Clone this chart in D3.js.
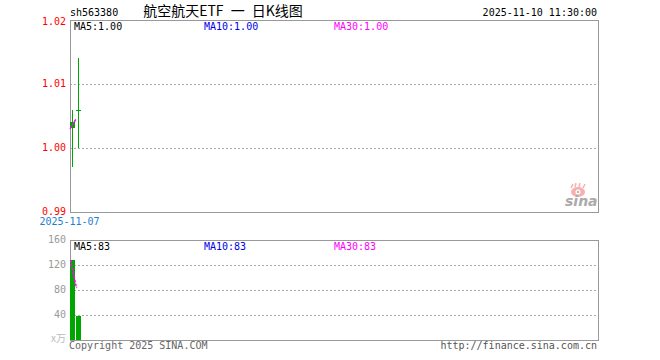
<!DOCTYPE html>
<html><head><meta charset="utf-8">
<script src="https://cdn.jsdelivr.net/npm/d3@7"></script>
<style>body{margin:0;background:#fff}svg{display:block}</style>
</head><body>
<svg id="c" width="660" height="360"></svg>
<script>
const code = "sh563380";
const title = "航空航天ETF 一 日K线图";
const stamp = "2025-11-10 11:30:00";
const dates = ["2025-11-07", "2025-11-10"];
const openV = [1.004, 1.006];
const closeV = [1.003, 1.006];
const highV = [1.006, 1.014];
const lowV = [0.997, 1.000];
const volV = [128, 38];
const priceTicks = [0.99, 1.00, 1.01, 1.02];
const volTicks = [40, 80, 120, 160];
const maLabels = ["MA5:1.00", "MA10:1.00", "MA30:1.00"];
const volMaLabels = ["MA5:83", "MA10:83", "MA30:83"];

const svg = d3.select("#c");
const mono = "'DejaVu Sans Mono', 'Liberation Mono', monospace";
const L = 70, R = 598, T = 20, B = 212, VT = 240, VB = 340;
const green = "#00a600", red = "#ff0000", blue = "#0000ee", mag = "#ff00ff";

const slots = 88;
const x = d3.scaleLinear().domain([0, slots]).range([L + 2.5, L + 2.5 + 6 * slots]);
const y = d3.scaleLinear().domain([0.99, 1.02]).range([B, T]);
const yv = d3.scaleLinear().domain([0, 160]).range([VB, VT]);

function ma(arr, n) { return arr.map((d, i) => d3.mean(arr.slice(Math.max(0, i - n + 1), i + 1))); }

// grid lines
svg.append("g").selectAll("line").data([1.00, 1.01]).join("line")
  .attr("x1", L).attr("x2", R).attr("y1", d => Math.round(y(d)) + 0.5).attr("y2", d => Math.round(y(d)) + 0.5)
  .attr("stroke", "#aaa").attr("stroke-dasharray", "2,2").attr("shape-rendering", "crispEdges");
svg.append("g").selectAll("line").data([40, 80, 120]).join("line")
  .attr("x1", L).attr("x2", R).attr("y1", d => Math.round(yv(d)) + 0.5).attr("y2", d => Math.round(yv(d)) + 0.5)
  .attr("stroke", "#aaa").attr("stroke-dasharray", "2,2").attr("shape-rendering", "crispEdges");

// frames
svg.append("rect").attr("x", L + 0.5).attr("y", T + 0.5).attr("width", R - L).attr("height", B - T)
  .attr("fill", "none").attr("stroke", "#999").attr("shape-rendering", "crispEdges");
svg.append("rect").attr("x", L + 0.5).attr("y", VT + 0.5).attr("width", R - L).attr("height", VB - VT)
  .attr("fill", "none").attr("stroke", "#999").attr("shape-rendering", "crispEdges");

// sina logo
const lg = svg.append("g");
lg.append("ellipse").attr("cx", 578).attr("cy", 192).attr("rx", 7).attr("ry", 5).attr("fill", "#f6b0b0");
lg.append("circle").attr("cx", 578).attr("cy", 192).attr("r", 2.5).attr("fill", "#fff");
lg.append("circle").attr("cx", 578).attr("cy", 192).attr("r", 1.3).attr("fill", "#bbb");
lg.append("path").attr("d", "M571,188 L573,184 M575,187 L576,183 M579,187 L580,183 M583,188 L585,184").attr("stroke", "#f6b0b0").attr("stroke-width", 1.5);
lg.append("text").attr("x", 565).attr("y", 206).attr("font-family", "'DejaVu Sans', sans-serif")
  .attr("font-size", 14).attr("font-style", "italic").attr("font-weight", "bold").attr("fill", "#aaa").text("sina");

// candles
const idx = d3.range(dates.length);
svg.append("g").selectAll("line").data(idx).join("line")
  .attr("x1", i => Math.floor(x(i)) + 0.5).attr("x2", i => Math.floor(x(i)) + 0.5)
  .attr("y1", i => Math.round(y(highV[i]))).attr("y2", i => Math.round(y(lowV[i])))
  .attr("stroke", green).attr("stroke-width", 1).attr("shape-rendering", "crispEdges");
svg.append("g").selectAll("rect").data(idx).join("rect")
  .attr("x", i => Math.floor(x(i)) - 2).attr("width", 5)
  .attr("y", i => Math.round(y(Math.max(openV[i], closeV[i]))))
  .attr("height", i => Math.max(1, Math.round(y(Math.min(openV[i], closeV[i])) - y(Math.max(openV[i], closeV[i])))))
  .attr("fill", green).attr("shape-rendering", "crispEdges");

// price MA
const ma5 = ma(closeV, 5);
svg.append("path").datum(idx)
  .attr("d", d3.line().x(i => x(i) - 2.5).y(i => y(ma5[i])))
  .attr("fill", "none").attr("stroke", mag).attr("stroke-width", 1.5).attr("stroke-dasharray", "3,1");

// volume bars
svg.append("g").selectAll("rect").data(idx).join("rect")
  .attr("x", i => Math.floor(x(i)) - 2).attr("width", 5)
  .attr("y", i => Math.round(yv(volV[i]))).attr("height", i => VB - Math.round(yv(volV[i])))
  .attr("fill", green).attr("shape-rendering", "crispEdges");
const vma5 = ma(volV, 5);
svg.append("path").datum(idx)
  .attr("d", d3.line().x(i => x(i) - 2).y(i => yv(vma5[i])))
  .attr("fill", "none").attr("stroke", mag).attr("stroke-width", 1.5).attr("stroke-dasharray", "3,1");

// texts
function txt(xp, yp, s, col, anchor, size, fam) {
  return svg.append("text").attr("x", xp).attr("y", yp).attr("fill", col)
    .attr("text-anchor", anchor || "start").attr("font-size", size || 10)
    .attr("font-family", fam || mono).attr("dominant-baseline", "middle").text(s);
}
txt(70, 13, code, "#000");
txt(223, 12, title, "#000", "middle", 14, "'Noto Sans CJK SC', sans-serif").attr("xml:space", "preserve").attr("word-spacing", 4);
txt(597, 13, stamp, "#000", "end");
const maCols = ["#000", blue, mag];
maLabels.forEach((s, i) => txt(74 + 130 * i, 26.5, s, maCols[i]));
volMaLabels.forEach((s, i) => txt(74 + 130 * i, 246.5, s, maCols[i]));

svg.append("g").selectAll("text").data(priceTicks).join("text")
  .attr("x", 66).attr("y", d => y(d) + (d === 1.02 ? 1.5 : 0)).attr("text-anchor", "end").attr("dominant-baseline", "middle")
  .attr("font-family", mono).attr("font-size", 10).attr("fill", red).text(d => d.toFixed(2));
svg.append("g").selectAll("text").data(volTicks).join("text")
  .attr("x", 66).attr("y", d => yv(d)).attr("text-anchor", "end").attr("dominant-baseline", "middle")
  .attr("font-family", mono).attr("font-size", 10).attr("fill", "#999").text(d => d);
txt(66, 339, "x万", "#bbb", "end", 10, "'Noto Sans CJK SC', sans-serif");

txt(x(0) - 3, 221.5, dates[0], "#1a80d0", "middle");
txt(69, 346, "Copyright 2025 SINA.COM", "#666");
txt(597, 346, "http://finance.sina.com.cn", "#555", "end");
</script>
</body></html>
